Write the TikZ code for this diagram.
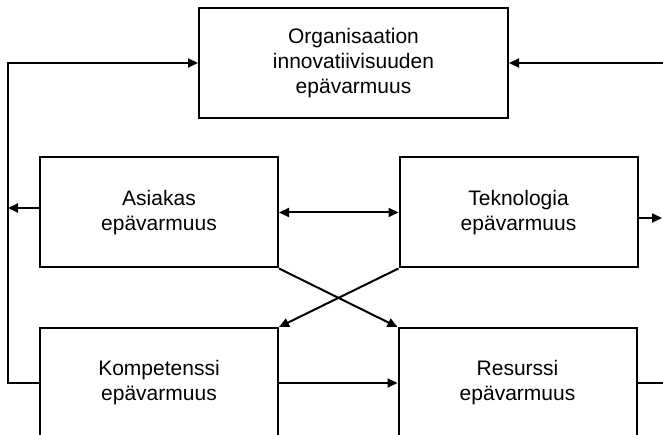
\documentclass[tikz,border=0pt]{standalone}
\usepackage{fontspec}
\setmainfont{Liberation Sans}
\usetikzlibrary{arrows.meta}
\begin{document}
\begin{tikzpicture}[x=1pt,y=1pt,
  box/.style={draw, line width=2pt, minimum width=238pt, minimum height=110pt,
    align=center, inner sep=0pt, font=\fontsize{21}{25}\selectfont},
  conn/.style={line width=2pt},
  arr/.style={conn, -{Triangle[length=10pt,width=9pt]}},
  biarr/.style={conn, {Triangle[length=10pt,width=9pt]}-{Triangle[length=10pt,width=9pt]}}]
\clip (0,0) rectangle (663,435);

% boxes
\node[box, minimum width=309pt] (org) at (353.5,372) {Organisaation\\innovatiivisuuden\\epävarmuus};
\node[box] (asi) at (159,222.5) {Asiakas\\epävarmuus};
\node[box] (tek) at (518.5,222.5) {Teknologia\\epävarmuus};
\node[box] (kom) at (159,52) {Kompetenssi\\epävarmuus};
\node[box] (res) at (517.5,52) {Resurssi\\epävarmuus};

% outer feedback loop on the left
\coordinate (lt) at (8,372);
\coordinate (lb) at (8,52);
\coordinate (la) at (8,227);
\coordinate (as) at (asi.west|-la);
\draw[arr] (kom.west) -- (lb) -- (lt) -- (org.west);
\draw[arr] (as) -- (la);

% right-hand side
\coordinate (rt) at (663,372);
\coordinate (rk) at (662,217);
\coordinate (tk) at (tek.east|-rk);
\coordinate (rr) at (663,52);
\draw[arr] (rt) -- (org.east);
\draw[arr] (tk) -- (rk);
\draw[conn] (res.east) -- (rr);

% links between the four boxes
\draw[biarr] (asi.east) -- (tek.west);
\draw[arr] (kom.east) -- (res.west);
\draw[arr] (asi.south east) -- (res.north west);
\draw[arr] (tek.south west) -- (kom.north east);
\end{tikzpicture}
\end{document}
